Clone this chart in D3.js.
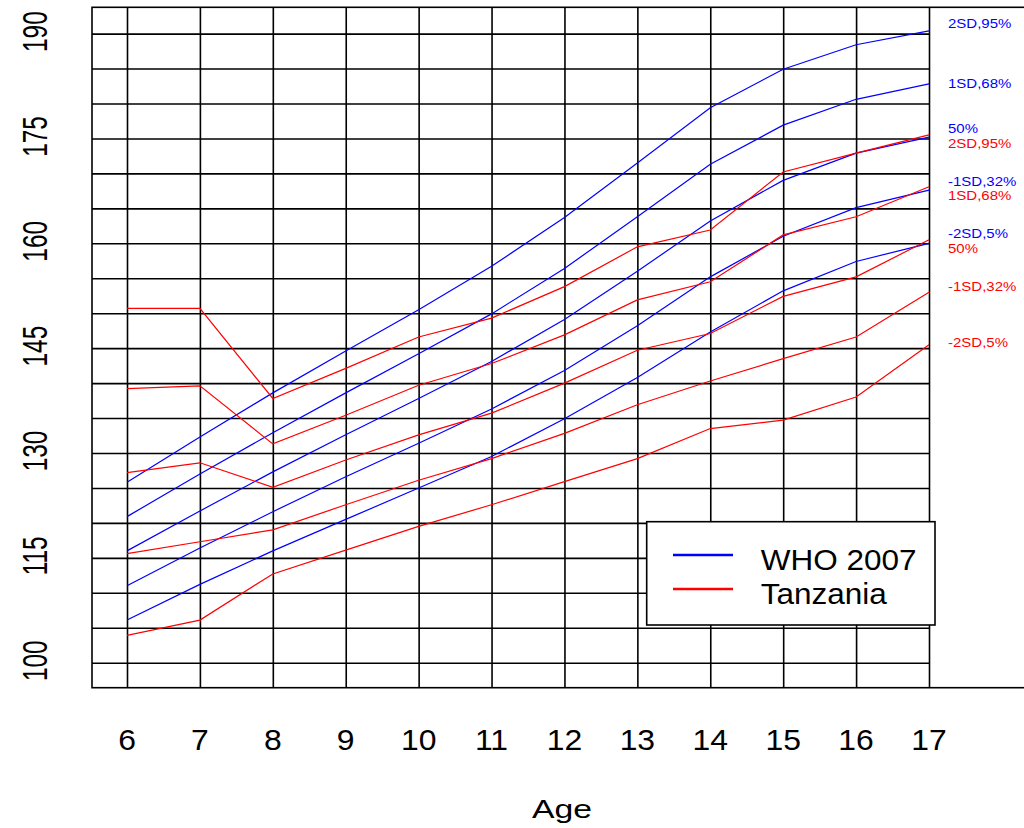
<!DOCTYPE html>
<html>
<head>
<meta charset="utf-8">
<script src="https://cdn.jsdelivr.net/npm/d3@7"></script>
<style>
  body { margin: 0; background: #fff; }
  svg { display: block; font-family: "Liberation Sans", Arial, sans-serif; }
  .grid line { stroke: #000; stroke-width: 1.6; }
  .grid path { display: none; }
</style>
</head>
<body>
<script>
// ages on the x axis
const ages = [6, 7, 8, 9, 10, 11, 12, 13, 14, 15, 16, 17];
const yTicks = [100, 115, 130, 145, 160, 175, 190];

// WHO 2007 height-for-age, boys
const who2sd  = [125.8, 132.3, 138.6, 144.6, 150.5, 156.7, 163.7, 171.5, 179.4, 184.9, 188.4, 190.4];
const who1sd  = [120.9, 127.0, 132.9, 138.6, 144.2, 149.9, 156.4, 163.8, 171.3, 176.9, 180.6, 182.8];
const who50   = [116.0, 121.7, 127.3, 132.6, 137.8, 143.1, 149.1, 156.0, 163.2, 169.0, 172.9, 175.2];
const whoM1sd = [111.0, 116.4, 121.6, 126.6, 131.4, 136.3, 141.8, 148.2, 155.2, 161.0, 165.1, 167.6];
const whoM2sd = [106.1, 111.2, 116.0, 120.5, 125.0, 129.5, 134.9, 140.8, 147.3, 153.2, 157.4, 160.0];

// Tanzania
const tz2sd  = [150.7, 150.7, 137.8, 142.1, 146.6, 149.3, 153.8, 159.5, 161.9, 170.2, 172.9, 175.5];
const tz1sd  = [139.2, 139.6, 131.3, 135.4, 139.7, 142.8, 146.9, 151.9, 154.5, 161.2, 163.8, 168.1];
const tz50   = [127.2, 128.6, 125.1, 129.0, 132.6, 135.7, 140.0, 144.7, 147.1, 152.4, 155.2, 160.5];
const tzM1sd = [115.6, 117.3, 119.0, 122.6, 126.1, 129.2, 132.8, 136.9, 140.3, 143.5, 146.6, 153.0];
const tzM2sd = [103.9, 106.1, 112.7, 116.1, 119.5, 122.6, 125.9, 129.2, 133.5, 134.7, 138.0, 145.5];

const whoLabels = ["2SD,95%", "1SD,68%", "50%", "-1SD,32%", "-2SD,5%"];
const tzLabels  = ["2SD,95%", "1SD,68%", "50%", "-1SD,32%", "-2SD,5%"];

const series = [
    { name: "WHO 2007", color: "#0000ff", lines: [who2sd, who1sd, who50, whoM1sd, whoM2sd], labels: whoLabels, nudge: [-7, 0, -9, -9, -10] },
    { name: "Tanzania", color: "#ff0000", lines: [tz2sd, tz1sd, tz50, tzM1sd, tzM2sd], labels: tzLabels, nudge: [9, 9, 9, -6, -2] }
];

const width = 1024, height = 828;
const box = { left: 92, top: 7.3, bottom: 687.7, right: 1030 };

const x = d3.scaleLinear().domain([6, 17]).range([127, 929]);
const y = d3.scaleLinear().domain([100, 190]).range([662.7, 33.6]);

const svg = d3.select("body").append("svg")
    .attr("width", width)
    .attr("height", height);

// grid: vertical lines through the whole box, horizontal ones up to age 17
svg.append("g")
    .attr("class", "grid")
    .attr("transform", `translate(0,${box.bottom})`)
    .call(d3.axisBottom(x).tickValues(ages).tickSize(-(box.bottom - box.top)).tickFormat(""));

svg.append("g")
    .attr("class", "grid")
    .attr("transform", `translate(${box.left},0)`)
    .call(d3.axisLeft(y).tickValues(d3.range(100, 191, 5)).tickSize(-(x(17) - box.left)).tickFormat(""));

svg.append("rect")
    .attr("x", box.left).attr("y", box.top)
    .attr("width", box.right - box.left).attr("height", box.bottom - box.top)
    .attr("fill", "none").attr("stroke", "#000").attr("stroke-width", 1.6);

// curves
const line = d3.line().x((d, i) => x(ages[i])).y(d => y(d));

series.forEach(s => {
    svg.append("g").selectAll("path")
        .data(s.lines)
        .enter().append("path")
        .attr("d", line)
        .attr("fill", "none")
        .attr("stroke", s.color)
        .attr("stroke-width", 1.2);

    svg.append("g").selectAll("text")
        .data(s.lines)
        .enter().append("text")
        .attr("transform", (d, i) => `translate(948,${y(d[d.length - 1]) + s.nudge[i]}) scale(1.2,1)`)
        .attr("dy", "0.36em")
        .attr("font-size", 12.5)
        .attr("fill", s.color)
        .text((d, i) => s.labels[i]);
});

// axis labels
svg.append("g").selectAll("text")
    .data(ages)
    .enter().append("text")
    .attr("transform", d => `translate(${x(d)},750) scale(1.1,1)`)
    .attr("text-anchor", "middle")
    .attr("font-size", 29)
    .text(d => d);

svg.append("g").selectAll("text")
    .data(yTicks)
    .enter().append("text")
    .attr("transform", d => `translate(46.7,${y(d) - 2}) rotate(-90) scale(1,1.43)`)
    .attr("text-anchor", "middle")
    .attr("font-size", 24.4)
    .text(d => d);

svg.append("text")
    .attr("transform", "translate(562,817.7) scale(1.35,1)")
    .attr("text-anchor", "middle")
    .attr("font-size", 25)
    .text("Age");

// legend
const legend = svg.append("g").attr("transform", "translate(646.7,521.7)");
legend.append("rect")
    .attr("width", 288.3).attr("height", 103.3)
    .attr("fill", "#fff").attr("stroke", "#000").attr("stroke-width", 1.6);

const items = legend.selectAll("g")
    .data(series)
    .enter().append("g")
    .attr("transform", (d, i) => `translate(0,${33.3 + i * 34})`);

items.append("line")
    .attr("x1", 26.3).attr("x2", 86.3)
    .attr("stroke", d => d.color)
    .attr("stroke-width", 2.7);

items.append("text")
    .attr("transform", "translate(114,15) scale(1.05,1)")
    .attr("font-size", 30)
    .text(d => d.name);
</script>
</body>
</html>
